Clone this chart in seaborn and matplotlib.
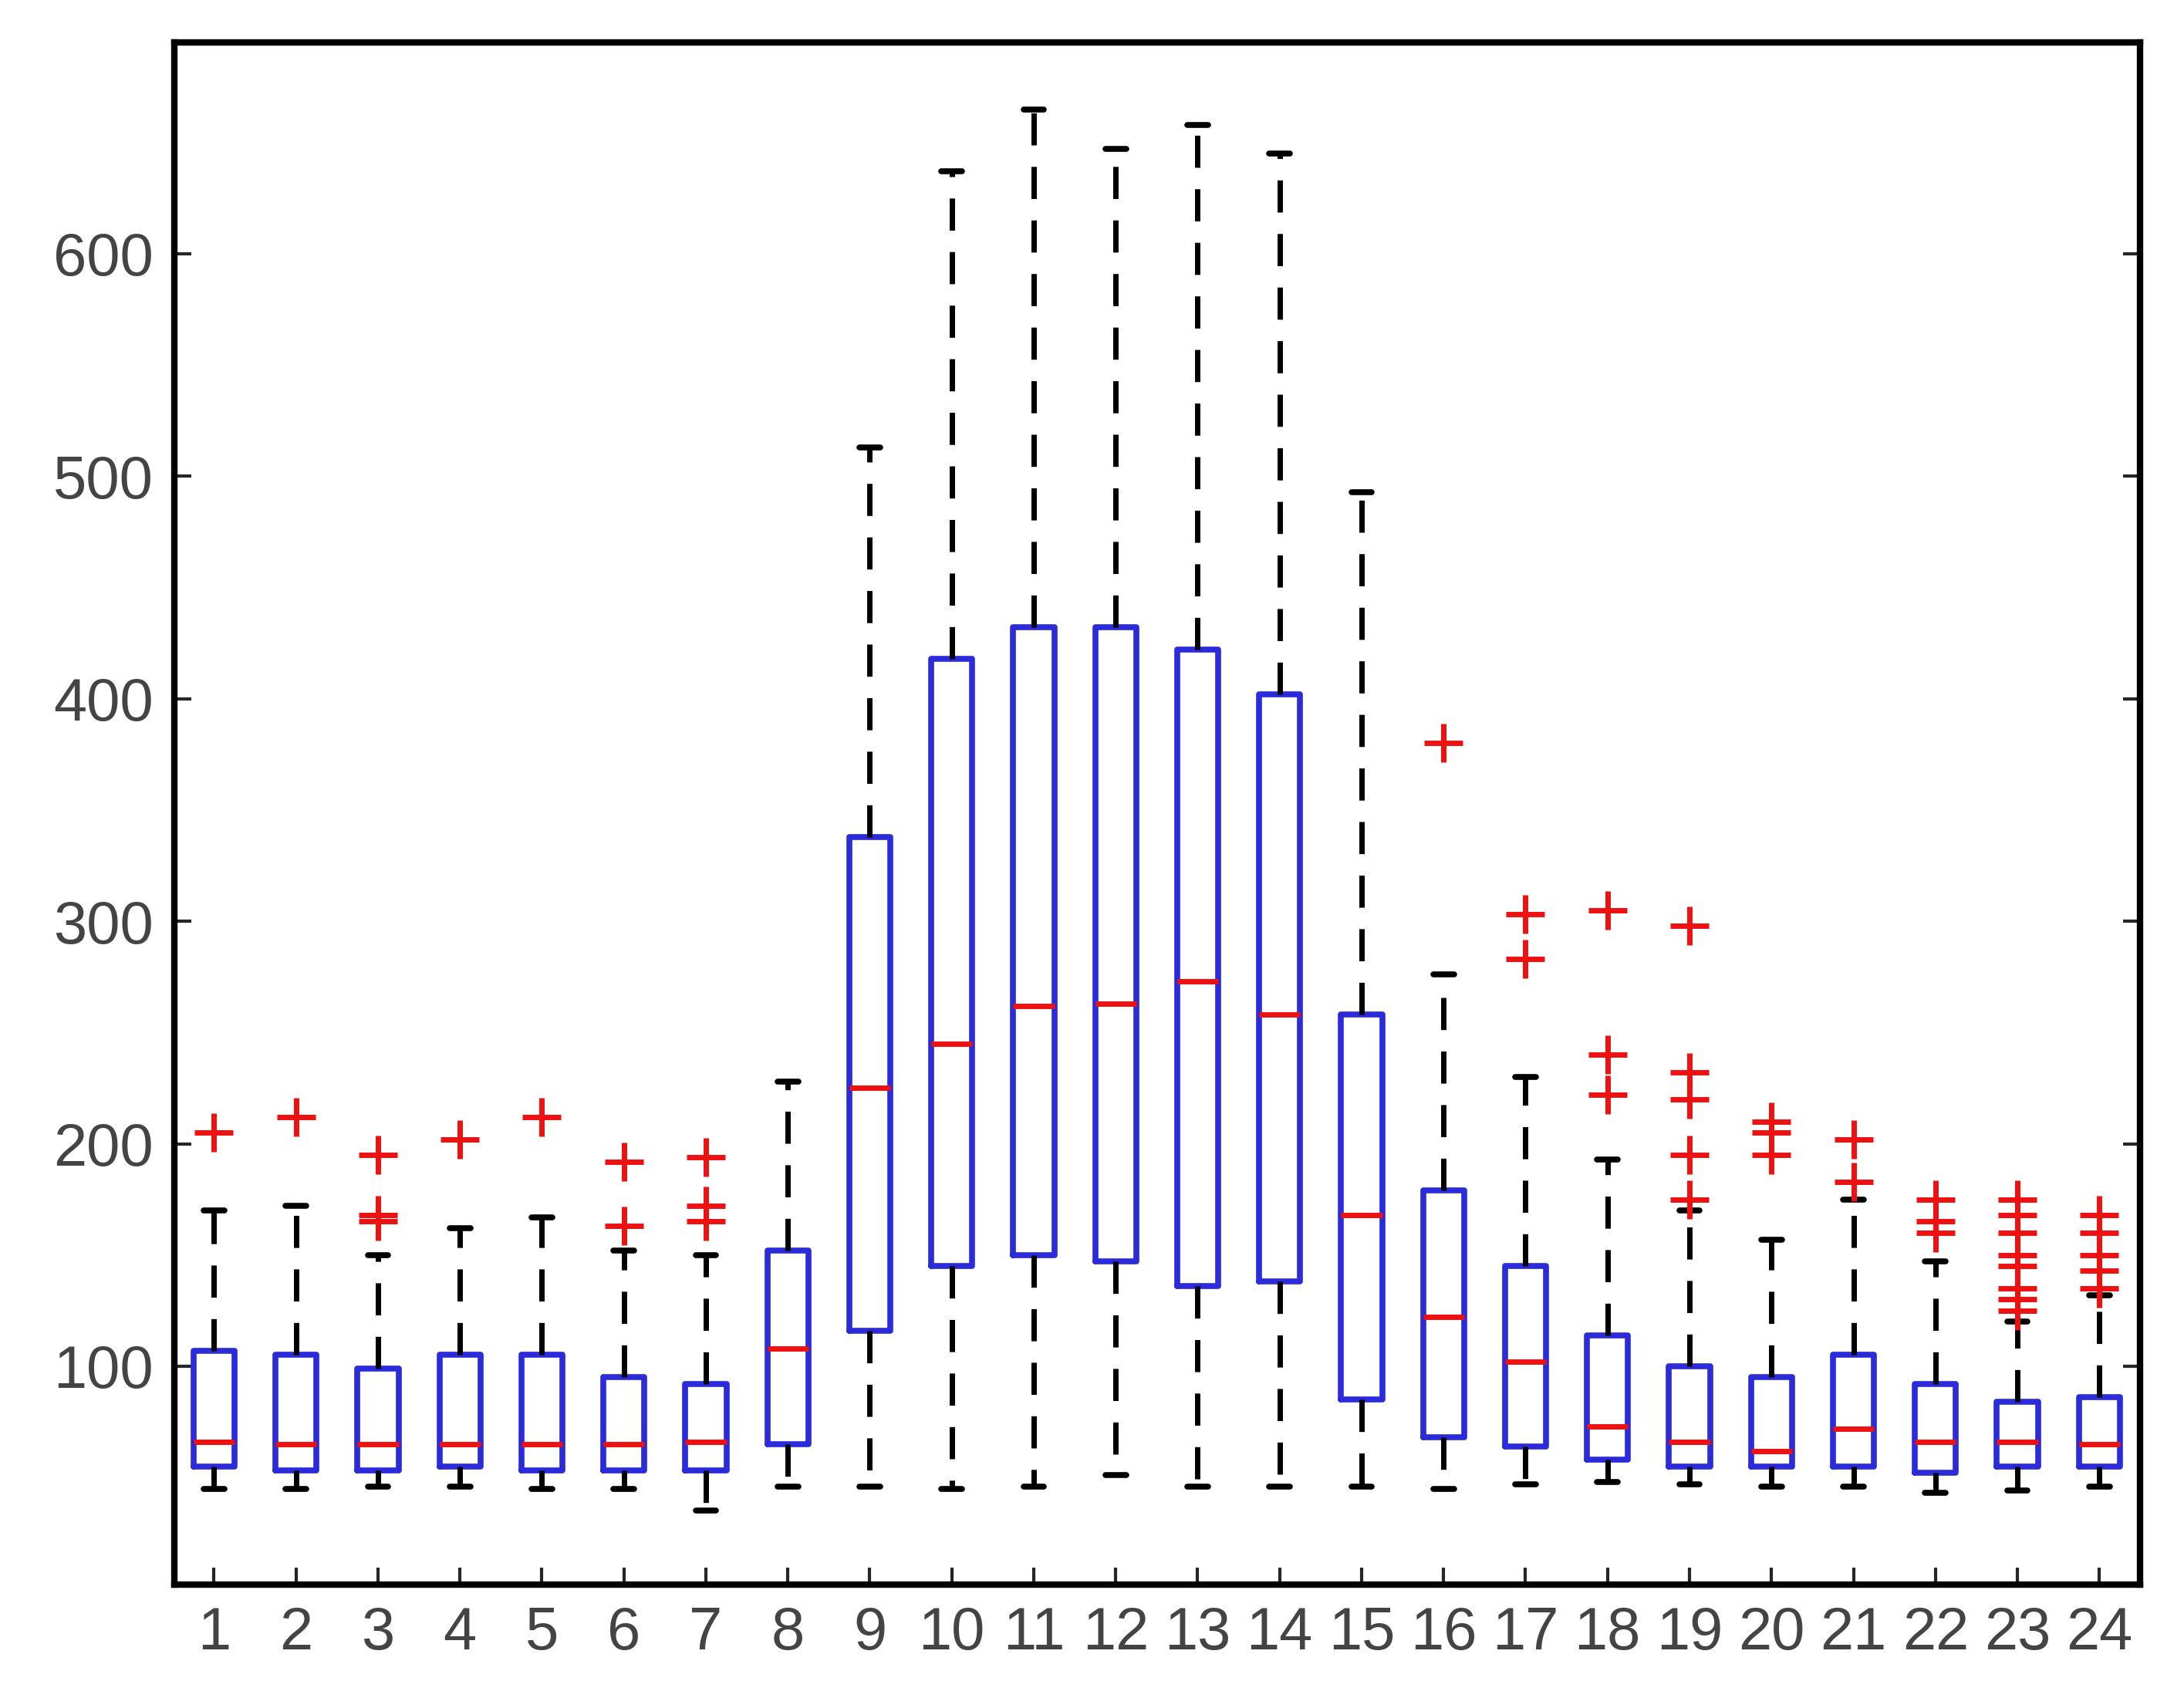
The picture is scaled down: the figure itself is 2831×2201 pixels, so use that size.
import matplotlib
matplotlib.use("Agg")
import matplotlib.pyplot as plt
import seaborn as sns

sns.set_style("white")
plt.rcParams['font.family'] = ['Liberation Sans', 'DejaVu Sans']

hours = list(range(1, 25))
whislo = [45, 45, 46, 46, 45, 45, 35, 46, 46, 45, 46, 51, 46, 46, 46, 45, 47, 48, 47, 46, 46, 43, 44, 46]
q1 = [55, 53, 53, 55, 53, 53, 53, 65, 116, 145, 150, 147, 136, 138, 85, 68, 64, 58, 55, 55, 55, 52, 55, 55]
med = [66, 65, 65, 65, 65, 65, 66, 108, 225, 245, 262, 263, 273, 258, 168, 122, 102, 73, 66, 62, 72, 66, 66, 65]
q3 = [107, 105, 99, 105, 105, 95, 92, 152, 338, 418, 432, 432, 422, 402, 258, 179, 145, 114, 100, 95, 105, 92, 84, 86]
whishi = [170, 172, 150, 162, 167, 152, 150, 228, 513, 637, 665, 647, 658, 645, 493, 276, 230, 193, 170, 157, 175, 147, 120, 132]
fliers = [[205], [212], [165, 168, 195], [202], [212], [163, 192], [165, 172, 194], [], [], [], [], [], [], [], [],
          [380], [283, 303], [222, 240, 305], [175, 195, 220, 232, 298], [195, 205, 210], [183, 202],
          [160, 165, 175], [125, 130, 135, 145, 150, 160, 168, 175], [135, 143, 150, 160, 168]]

stats = [dict(label=str(h), whislo=a, q1=b, med=c, q3=d, whishi=e, fliers=f)
         for h, a, b, c, d, e, f in zip(hours, whislo, q1, med, q3, whishi, fliers)]

fig = plt.figure(figsize=(28.31, 22.01), dpi=100)
ax = fig.add_axes([0.08, 0.067, 0.9, 0.908])
ax.bxp(stats, positions=hours, widths=0.5,
       boxprops=dict(color='#2b2bd9', linewidth=5.5),
       medianprops=dict(color='#ee1111', linewidth=5),
       whiskerprops=dict(color='black', linewidth=5, linestyle=(0, (6, 4))),
       capprops=dict(color='black', linewidth=5.5),
       flierprops=dict(marker='+', markeredgecolor='#ee1111', markersize=36, markeredgewidth=5))
ax.set_xlim(0.52, 24.5)
ax.set_ylim(2, 695)
ax.set_yticks([100, 200, 300, 400, 500, 600])
ax.set_xticks(hours)
ax.set_xticklabels([str(h) for h in hours])
ax.tick_params(axis='both', direction='in', length=16, width=3, labelsize=56,
               labelcolor='#444444', right=True, left=True, bottom=True, top=False, pad=20)
for s in ax.spines.values():
    s.set_linewidth(6)
    s.set_color('black')
fig.savefig("out.png", dpi=100)
